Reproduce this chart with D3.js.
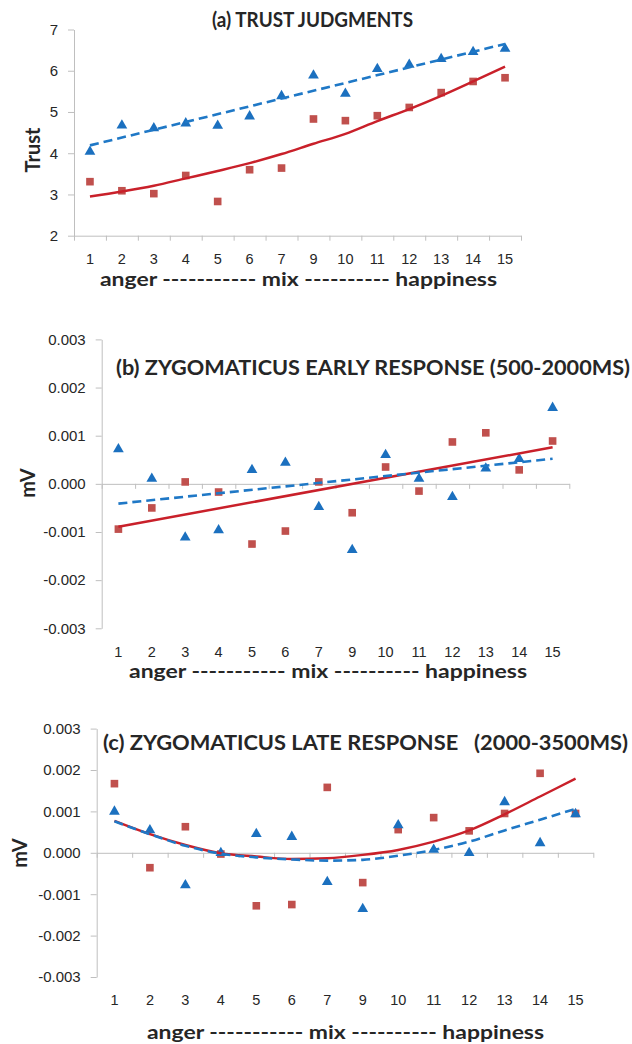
<!DOCTYPE html>
<html>
<head>
<meta charset="utf-8">
<script src="https://cdn.jsdelivr.net/npm/d3@7"></script>
<style>
  body { margin: 0; background: #fff; }
  svg { display: block; font-family: Lato, "Open Sans", sans-serif; }
</style>
</head>
<body>
<svg id="chart" width="632" height="1044"></svg>
<script>
// categories on the x axis (note: no 8)
const categories = ["1", "2", "3", "4", "5", "6", "7", "9", "10", "11", "12", "13", "14", "15"];

// (a) trust judgments
const trustRed = [3.31, 3.09, 3.02, 3.46, 2.83, 3.60, 3.64, 4.83, 4.79, 4.91, 5.11, 5.47, 5.74, 5.83];
const trustBlue = [4.06, 4.70, 4.63, 4.75, 4.69, 4.92, 5.41, 5.91, 5.47, 6.07, 6.17, 6.31, 6.48, 6.56];
const trustRedFit = [2.95, 3.07, 3.21, 3.39, 3.57, 3.76, 3.98, 4.23, 4.47, 4.78, 5.07, 5.39, 5.74, 6.10];
const trustBlueFitCats = ["1", "15"];
const trustBlueFit = [4.19, 6.65];
const trustTicks = [2, 3, 4, 5, 6, 7];

// (b) zygomaticus early response
const earlyRed = [-0.00094, -0.00050, 0.00004, -0.00017, -0.00125, -0.00098, 0.00004, -0.00060, 0.00035, -0.00015, 0.00087, 0.00106, 0.00029, 0.00089];
const earlyBlue = [0.00074, 0.00013, -0.00109, -0.00094, 0.00031, 0.00046, -0.00046, -0.00135, 0.00062, 0.00013, -0.00025, 0.00034, 0.00054, 0.00160];
const earlyFitCats = ["1", "15"];
const earlyRedFit = [-0.00089, 0.00076];
const earlyBlueFit = [-0.00041, 0.00052];

// (c) zygomaticus late response
const lateRed = [0.00167, -0.00036, 0.00063, -0.00003, -0.00128, -0.00125, 0.00158, -0.00072, 0.00056, 0.00085, 0.00053, 0.00095, 0.00192, 0.00095];
const lateBlue = [0.00102, 0.00057, -0.00076, 0.00002, 0.00048, 0.00041, -0.00068, -0.00133, 0.00069, 0.00010, 0.00002, 0.00125, 0.00026, 0.00096];
const lateRedFit = [0.00077, 0.00045, 0.00019, -0.00001, -0.00009, -0.00015, -0.00013, -0.00005, 0.00007, 0.00027, 0.00054, 0.00093, 0.00136, 0.00179];
const lateBlueFit = [0.00076, 0.00045, 0.00017, -0.00002, -0.00011, -0.00016, -0.00019, -0.00017, -0.00007, 0.00007, 0.00027, 0.00054, 0.00080, 0.00106];

const mvTicks = [-0.003, -0.002, -0.001, 0, 0.001, 0.002, 0.003];

const xLabelText = "anger ----------- mix ---------- happiness";

const RED = "#c0504d";
const RED_LINE = "#c9202a";
const BLUE = "#1b70bf";
const BLUE_LINE = "#1f78c6";
const AXIS = "#bfbfbf";
const TEXT = "#262626";

const svg = d3.select("#chart");

function drawPanel(p) {
  const g = svg.append("g");

  const x = d3.scaleBand().domain(categories).range([p.left, p.right]);
  const xIdx = d3.scaleLinear().domain([0, categories.length]).range([p.left, p.right]);
  const y = d3.scaleLinear().domain([p.yMin, p.yMax]).range([p.bottom, p.top]);
  const cx = (c) => x(c) + x.bandwidth() / 2;

  // y axis
  const yAxis = g.append("g")
    .attr("transform", `translate(${p.left},0)`)
    .call(d3.axisLeft(y).tickValues(p.ticks).tickSizeInner(6).tickSizeOuter(0)
      .tickPadding(10).tickFormat(p.fmt));
  yAxis.selectAll("path, line").attr("stroke", AXIS);
  yAxis.selectAll("text").attr("fill", TEXT).style("font-size", "15px");

  // x axis line with ticks between categories
  const xAxis = g.append("g")
    .attr("transform", `translate(0,${y(p.xAxisAt)})`)
    .call(d3.axisBottom(xIdx).tickValues(d3.range(categories.length + 1))
      .tickSizeInner(5).tickSizeOuter(0).tickFormat(""));
  xAxis.selectAll("path, line").attr("stroke", AXIS);

  // category labels sit below the plot area
  const xLab = g.append("g")
    .attr("transform", `translate(0,${p.bottom})`)
    .call(d3.axisBottom(x).tickSize(0).tickPadding(18));
  xLab.select(".domain").remove();
  xLab.selectAll("text").attr("fill", TEXT).style("font-size", "14.5px");

  // markers
  const sq = d3.symbol().type(d3.symbolSquare).size(58);
  const tri = d3.symbol().type(d3.symbolTriangle).size(50);

  g.selectAll(".sq")
    .data(p.red)
    .enter()
    .append("path")
    .attr("class", "sq")
    .attr("d", sq)
    .attr("transform", (d, i) => `translate(${cx(categories[i])},${y(d)})`)
    .attr("fill", RED);

  g.selectAll(".tri")
    .data(p.blue)
    .enter()
    .append("path")
    .attr("class", "tri")
    .attr("d", tri)
    .attr("transform", (d, i) => `translate(${cx(categories[i])},${y(d) + 1})`)
    .attr("fill", BLUE);

  // trend lines
  const line = d3.line()
    .x((d) => cx(d[0]))
    .y((d) => y(d[1]))
    .curve(d3.curveMonotoneX);

  g.append("path")
    .datum(d3.zip(p.redFitCats, p.redFit))
    .attr("fill", "none")
    .attr("stroke", RED_LINE)
    .attr("stroke-width", 2.5)
    .attr("d", line);

  g.append("path")
    .datum(d3.zip(p.blueFitCats, p.blueFit))
    .attr("fill", "none")
    .attr("stroke", BLUE_LINE)
    .attr("stroke-width", 2.6)
    .attr("stroke-dasharray", "9,5")
    .attr("d", line);

  // titles
  g.append("text")
    .attr("x", p.titleX)
    .attr("y", p.titleY)
    .attr("dominant-baseline", "central")
    .attr("textLength", p.titleLen)
    .attr("lengthAdjust", "spacingAndGlyphs")
    .attr("fill", TEXT)
    .style("font-size", "21px")
    .style("font-weight", "bold")
    .style("white-space", "pre")
    .text(p.title);

  g.append("text")
    .attr("transform", `translate(${p.yLabelX},${p.yLabelY}) rotate(-90)`)
    .attr("text-anchor", "middle")
    .attr("dominant-baseline", "central")
    .attr("fill", TEXT)
    .style("font-size", "20px")
    .style("font-weight", "bold")
    .text(p.yLabel);

  g.append("text")
    .attr("x", p.xLabelX)
    .attr("y", p.xLabelY)
    .attr("dominant-baseline", "central")
    .attr("textLength", p.xLabelLen)
    .attr("lengthAdjust", "spacingAndGlyphs")
    .attr("fill", TEXT)
    .style("font-size", "19.5px")
    .style("font-weight", "bold")
    .text(xLabelText);
}

const mvFmt = (d) => d.toFixed(3);

drawPanel({
  left: 74, right: 521, top: 29.5, bottom: 235.7,
  yMin: 2, yMax: 7, xAxisAt: 2, ticks: trustTicks, fmt: d3.format("d"),
  red: trustRed, blue: trustBlue,
  redFitCats: categories, redFit: trustRedFit,
  blueFitCats: trustBlueFitCats, blueFit: trustBlueFit,
  title: "(a) TRUST JUDGMENTS", titleX: 212, titleY: 18, titleLen: 201,
  yLabel: "Trust", yLabelX: 32, yLabelY: 150,
  xLabelX: 100, xLabelY: 278, xLabelLen: 397
});

drawPanel({
  left: 101.7, right: 569.3, top: 339.4, bottom: 628.3,
  yMin: -0.003, yMax: 0.003, xAxisAt: 0, ticks: mvTicks, fmt: mvFmt,
  red: earlyRed, blue: earlyBlue,
  redFitCats: earlyFitCats, redFit: earlyRedFit,
  blueFitCats: earlyFitCats, blueFit: earlyBlueFit,
  title: "(b) ZYGOMATICUS EARLY RESPONSE (500-2000MS)", titleX: 116, titleY: 366, titleLen: 514,
  yLabel: "mV", yLabelX: 27, yLabelY: 483,
  xLabelX: 129, xLabelY: 670, xLabelLen: 398
});

drawPanel({
  left: 96.7, right: 593.3, top: 728.6, bottom: 977,
  yMin: -0.003, yMax: 0.003, xAxisAt: 0, ticks: mvTicks, fmt: mvFmt,
  red: lateRed, blue: lateBlue,
  redFitCats: categories, redFit: lateRedFit,
  blueFitCats: categories, blueFit: lateBlueFit,
  title: "(c) ZYGOMATICUS LATE RESPONSE   (2000-3500MS)", titleX: 103, titleY: 741, titleLen: 525,
  yLabel: "mV", yLabelX: 19, yLabelY: 853,
  xLabelX: 147, xLabelY: 1031, xLabelLen: 397
});
</script>
</body>
</html>
